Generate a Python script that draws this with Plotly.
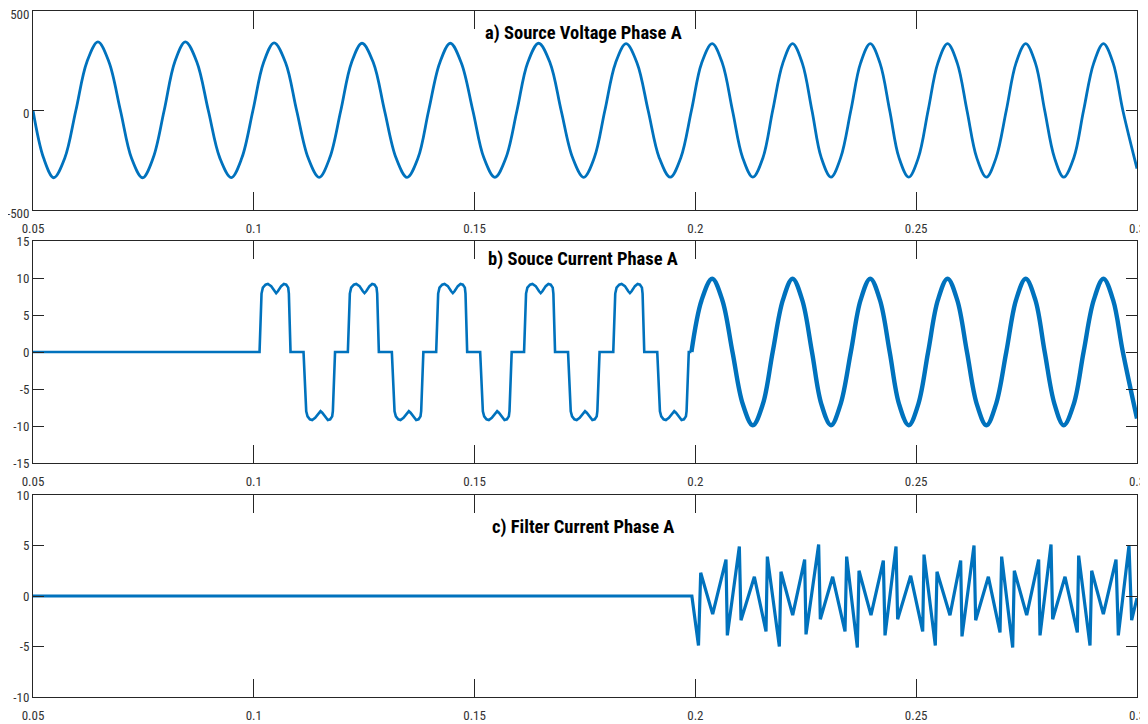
import plotly.graph_objects as go

# ---------------- data ----------------
# a) source voltage: extremum / zero-crossing / mid-slope readings (t [s], v [V])
volt_t = [0.0500, 0.0524, 0.0547,
          0.0572, 0.0597, 0.0622, 0.0647, 0.0672, 0.0698, 0.0723, 0.0748,
          0.0772, 0.0797, 0.0821, 0.0845, 0.0871, 0.0897, 0.0923, 0.0949,
          0.0973, 0.0998, 0.1022, 0.1046, 0.1072, 0.1097, 0.1123, 0.1148,
          0.1172, 0.1197, 0.1221, 0.1245, 0.1271, 0.1296, 0.1322, 0.1347,
          0.1372, 0.1396, 0.1421, 0.1445, 0.1470, 0.1496, 0.1521, 0.1546,
          0.1571, 0.1596, 0.1620, 0.1645, 0.1671, 0.1696, 0.1722, 0.1747,
          0.1771, 0.1795, 0.1819, 0.1843, 0.1868, 0.1893, 0.1918, 0.1943,
          0.1967, 0.1991, 0.2014, 0.2038, 0.2061, 0.2084, 0.2107, 0.2130,
          0.2153, 0.2175, 0.2198, 0.2220, 0.2242, 0.2264, 0.2285, 0.2307,
          0.2329, 0.2352, 0.2374, 0.2396, 0.2418, 0.2440, 0.2461, 0.2483,
          0.2505, 0.2527, 0.2549, 0.2571, 0.2593, 0.2615, 0.2637, 0.2659,
          0.2681, 0.2704, 0.2726, 0.2748, 0.2770, 0.2791, 0.2813, 0.2834,
          0.2857, 0.2879, 0.2902, 0.2924, 0.2946, 0.2968, 0.3000]
volt_v = [0, -239, -338,
          -239, 0, 244, 345, 244, 0, -239, -338,
          -239, 0, 244, 345, 244, 0, -238, -337,
          -238, 0, 240, 340, 240, 0, -238, -336,
          -238, 0, 239, 338, 239, 0, -238, -336,
          -238, 0, 239, 338, 239, 0, -238, -336,
          -238, 0, 239, 338, 239, 0, -238, -336,
          -238, 0, 238, 336, 238, 0, -237, -335,
          -237, 0, 238, 336, 238, 0, -237, -335,
          -237, 0, 238, 336, 238, 0, -237, -335,
          -237, 0, 238, 336, 238, 0, -237, -335,
          -237, 0, 238, 336, 238, 0, -237, -335,
          -237, 0, 238, 336, 238, 0, -237, -335,
          -237, 0, 238, 336, 238, 0, -292]

# b) source current, rectifier-type part: one cycle
pulse_off_ms = [0.00, 0.45, 0.75, 1.36, 1.89, 2.64, 3.40, 3.77, 4.15, 4.91, 5.51, 6.04, 6.49, 6.64, 7.02,
                9.96, 10.57, 10.87, 11.40, 11.92, 12.60, 13.40, 13.81, 14.20, 14.95, 15.47, 16.00, 16.45, 16.60, 17.10]
pulse_val = [0, 7.9, 8.7, 9.1, 9.2, 8.9, 8.2, 7.95, 8.2, 8.9, 9.2, 9.1, 8.7, 7.9, 0,
             0, -8.0, -8.7, -9.1, -9.2, -8.9, -8.2, -8.0, -8.2, -8.9, -9.2, -9.1, -8.7, -8.0, 0]
pulse_starts = [0.1013, 0.1213, 0.1413, 0.1612, 0.1814]

# b) source current after compensation (t [s], i [A])
isrc_t = [0.1991, 0.2014, 0.2038, 0.2061, 0.2084, 0.2107, 0.2130,
          0.2153, 0.2175, 0.2198, 0.2220, 0.2242, 0.2264, 0.2285, 0.2307,
          0.2329, 0.2352, 0.2374, 0.2396, 0.2418, 0.2440, 0.2461, 0.2483,
          0.2505, 0.2527, 0.2549, 0.2571, 0.2593, 0.2615, 0.2637, 0.2659,
          0.2681, 0.2704, 0.2726, 0.2748, 0.2770, 0.2791, 0.2813, 0.2834,
          0.2857, 0.2879, 0.2902, 0.2924, 0.2946, 0.2968, 0.3000]
isrc_v = [0, 7.0, 9.9, 7.0, 0, -7.0, -9.9,
          -7.0, 0, 7.0, 9.9, 7.0, 0, -7.0, -9.9,
          -7.0, 0, 7.0, 9.9, 7.0, 0, -7.0, -9.9,
          -7.0, 0, 7.0, 9.9, 7.0, 0, -7.0, -9.9,
          -7.0, 0, 7.0, 9.9, 7.0, 0, -7.0, -9.9,
          -7.0, 0, 7.0, 9.9, 7.0, 0, -9.0]

# c) filter current (t [s], i [A])
filt_t = [0.0500, 0.1992, 0.2007, 0.2012, 0.20391, 0.20693, 0.20723, 0.20995, 0.21033, 0.21335,
          0.21599, 0.21629, 0.21901, 0.21938, 0.22203, 0.22474, 0.22505, 0.22791, 0.22829,
          0.23108, 0.23388, 0.23425, 0.23667, 0.23705, 0.23976, 0.24256, 0.24294, 0.24543,
          0.24580, 0.24875, 0.25147, 0.25177, 0.25433, 0.25471, 0.25765, 0.26007, 0.26037,
          0.26309, 0.26347, 0.26634, 0.26898, 0.26935, 0.27185, 0.27222, 0.27502, 0.27773,
          0.27804, 0.28053, 0.28090, 0.28370, 0.28649, 0.28679, 0.28936, 0.28974, 0.29238,
          0.29525, 0.29577, 0.29819, 0.29879, 0.3000]
filt_v = [0, 0, -4.9, 2.3, -1.8, 3.6, -3.9, 4.9, -2.4, 1.9,
          -3.5, 3.9, -5.0, 2.4, -1.9, 3.6, -3.8, 5.1, -2.3,
          1.9, -3.5, 3.9, -5.1, 2.5, -1.9, 3.5, -3.9, 4.9,
          -2.3, 2.0, -3.5, 4.1, -4.9, 2.4, -1.9, 3.5, -4.0,
          5.0, -2.4, 1.9, -3.6, 3.9, -5.1, 2.5, -1.9, 3.6,
          -3.9, 5.1, -2.3, 1.9, -3.6, 4.0, -4.9, 2.5, -1.8,
          3.6, -3.9, 5.0, -2.4, -0.2]

x_ticks = [0.05, 0.1, 0.15, 0.2, 0.25, 0.3]
x_tick_text = ["0.05", "0.1", "0.15", "0.2", "0.25", "0.3"]
ya_ticks = [-500, 0, 500]
yb_ticks = [-15, -10, -5, 0, 5, 10, 15]
yc_ticks = [-10, -5, 0, 5, 10]
titles = ["a) Source Voltage Phase A", "b) Souce Current Phase A", "c) Filter Current Phase A"]

# ---------------- build current trace from read cycle ----------------
cur_t = [0.0500]
cur_v = [0.0]
for s in pulse_starts:
    for o, v in zip(pulse_off_ms, pulse_val):
        cur_t.append(round(s + o / 1000.0, 5))
        cur_v.append(v)
cur_t.append(0.1991)
cur_v.append(0.0)

# ---------------- figure ----------------
BLUE = "#0072BD"
FONT = "Liberation Sans Narrow, Arial Narrow, Roboto Condensed, Liberation Sans, sans-serif"
# page body has an 8px margin: figure is placed at (8, 8) in the window
OFF = 8
W, H = 1140, 716


def fx(px):
    return (px - OFF) / W


def fy(py):
    return 1 - (py - OFF) / H


fig = go.Figure()
fig.add_trace(go.Scatter(x=volt_t, y=volt_v, mode="lines", line=dict(color=BLUE, width=2.8, shape="spline", smoothing=1.0),
                         xaxis="x", yaxis="y", showlegend=False, hoverinfo="skip"))
fig.add_trace(go.Scatter(x=cur_t, y=cur_v, mode="lines", line=dict(color=BLUE, width=2.6),
                         xaxis="x2", yaxis="y2", showlegend=False, hoverinfo="skip"))
fig.add_trace(go.Scatter(x=isrc_t, y=isrc_v, mode="lines", line=dict(color=BLUE, width=4.4, shape="spline", smoothing=1.0),
                         xaxis="x2", yaxis="y2", showlegend=False, hoverinfo="skip"))
fig.add_trace(go.Scatter(x=filt_t, y=filt_v, mode="lines", line=dict(color=BLUE, width=3.2),
                         xaxis="x3", yaxis="y3", showlegend=False, hoverinfo="skip"))

xdom = [fx(33), fx(1137)]
ydoms = [[fy(210), fy(11)], [fy(463), fy(241)], [fy(697), fy(495)]]

axcommon = dict(showline=True, linecolor="#262626", linewidth=1, mirror="ticks", ticks="inside",
                tickcolor="#262626", tickwidth=1, showgrid=False, zeroline=False, automargin=False,
                ticklabeloverflow="allow",
                tickfont=dict(family=FONT, size=13, color="#333333"), fixedrange=True)

yticks = [ya_ticks, yb_ticks, yc_ticks]
yranges = [[-500, 500], [-15, 15], [-10, 10]]
yshift = [3, 0, 0]
for i in range(3):
    sx = "" if i == 0 else str(i + 1)
    fig.layout["xaxis" + sx] = dict(axcommon, domain=xdom, range=[0.05, 0.3], tickvals=x_ticks,
                                    ticktext=x_tick_text, ticklen=18, ticklabelstandoff=6,
                                    anchor="y" + sx)
    fig.layout["yaxis" + sx] = dict(axcommon, domain=ydoms[i], range=yranges[i], tickvals=yticks[i],
                                    ticktext=[str(v) for v in yticks[i]], ticklen=11, ticklabelstandoff=0,
                                    ticklabelshift=yshift[i], anchor="x" + sx)

title_y = [33, 259, 527]
for t, yy in zip(titles, title_y):
    fig.add_annotation(text="<b>" + t + "</b>", x=fx(583), y=fy(yy), xref="paper", yref="paper",
                       xanchor="center", yanchor="middle", showarrow=False,
                       font=dict(family=FONT, size=18.5, color="#000000"))

fig.update_layout(width=W, height=H, margin=dict(l=0, r=0, t=0, b=0, autoexpand=False),
                  paper_bgcolor="white", plot_bgcolor="white")

fig.write_html("out.html")
